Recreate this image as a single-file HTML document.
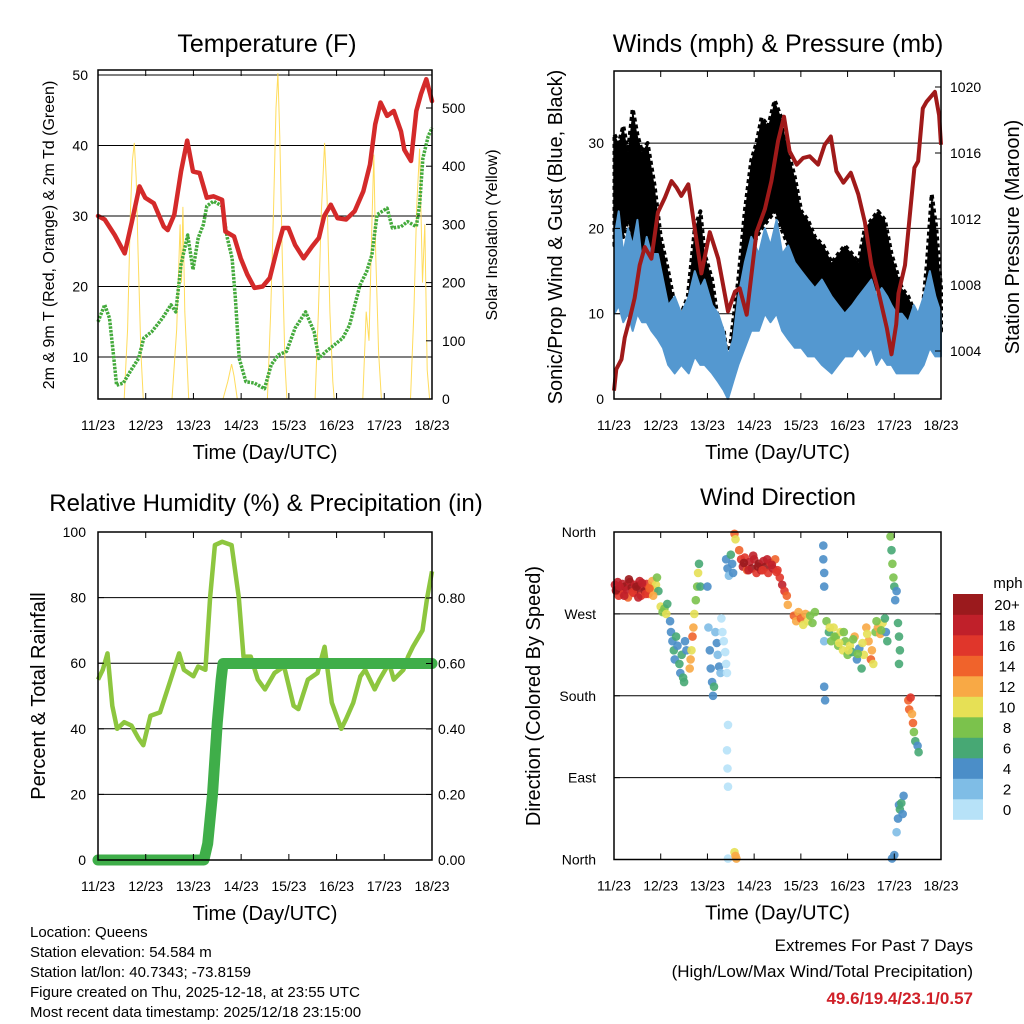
<!DOCTYPE html>
<html><head><meta charset="utf-8">
<style>
html,body{margin:0;padding:0;background:#fff;}
svg{display:block;font-family:"Liberation Sans",sans-serif;}
</style></head>
<body>
<svg id="chart" width="1024" height="1024" viewBox="0 0 1024 1024" xmlns="http://www.w3.org/2000/svg">
<g id="layer-grid"></g>
<g id="layer-data"></g>
<g id="layer-axes"></g>
<g id="layer-text"></g>
</svg>
<script>
// ---------- data ----------
const dayLabels = ["11/23","12/23","13/23","14/23","15/23","16/23","17/23","18/23"];
const tempDays = [0,.14,.35,.56,.71,.87,.99,1.17,1.38,1.46,1.6,1.74,1.87,1.99,2.13,2.28,2.42,2.6,2.67,2.85,2.99,3.13,3.28,3.45,3.6,3.74,3.88,3.99,4.13,4.31,4.49,4.63,4.74,4.88,5.02,5.2,5.38,5.56,5.7,5.81,5.92,6.06,6.2,6.35,6.42,6.56,6.67,6.77,6.88,7.0];
const tempVals = [30,29.5,27.3,24.7,29.2,34.2,32.6,31.8,28.5,28,30.2,36.3,40.7,36.3,36.1,32.6,32.8,32.3,27.8,27.1,24,21.7,19.8,20,21.2,25,28.3,28.3,25.9,24,25.7,26.9,30,31.6,29.7,29.5,30.7,33.5,37.3,43,46.1,44.2,44.9,42,39.4,37.8,44.9,47.3,49.4,46.3];
const dewDays = [0,.14,.24,.31,.39,.53,.67,.85,.96,1.13,1.35,1.53,1.63,1.74,1.88,1.99,2.1,2.21,2.28,2.42,2.6,2.71,2.81,2.88,2.96,3.1,3.28,3.49,3.63,3.78,3.95,4.13,4.35,4.53,4.63,4.78,4.95,5.13,5.27,5.49,5.63,5.74,5.85,6.06,6.17,6.35,6.49,6.67,6.74,6.81,6.92,7.0];
const dewVals = [15,17.4,15.5,11.2,6,6.3,7.9,9.8,12.7,13.6,15.5,17.4,16.4,23.1,27.3,22.4,26.9,28.8,31.4,32.1,31.4,26.9,24,18.3,9.8,6.5,6.3,5.5,8.9,10.3,10.8,14.1,16.4,13.6,9.8,10.8,11.7,12.7,14.5,20.2,22.1,24.5,30.2,31.1,28.3,28.5,29.2,28.5,31.6,38.2,41.3,42.5];
const solarDays = [0,.55,.62,.68,.72,.76,.8,.84,.9,.95,1.55,1.65,1.72,1.75,1.78,1.82,1.9,2.62,2.72,2.8,2.85,2.92,3.55,3.62,3.68,3.73,3.77,3.81,3.86,3.92,3.96,4.55,4.62,4.68,4.75,4.8,4.86,4.92,4.95,5.55,5.62,5.68,5.74,5.78,5.82,5.88,5.94,6.55,6.62,6.68,6.74,6.8,6.85,6.9,6.95,7.0];
const solarVals = [0,0,120,320,410,440,380,250,80,0,0,120,300,200,330,150,0,0,30,60,40,0,0,150,330,500,560,450,250,60,0,0,150,320,440,350,150,30,0,0,150,100,300,420,250,80,0,0,150,330,430,200,300,50,0,0];

const presDays = [0,.05,.16,.23,.34,.44,.55,.66,.8,.94,1.09,1.23,1.34,1.44,1.59,1.73,1.87,2.05,2.23,2.44,2.59,2.69,2.84,3.05,3.23,3.37,3.51,3.64,3.76,3.91,4.05,4.19,4.37,4.51,4.64,4.76,4.91,5.07,5.23,5.37,5.51,5.66,5.84,5.94,6.04,6.09,6.23,6.43,6.51,6.61,6.69,6.87,6.96,7.0];
const presVals = [1001.6,1002.9,1003.5,1004.8,1006,1007.2,1009.2,1010.3,1009.6,1012.4,1013.3,1014.3,1013.9,1013.4,1014.1,1011.4,1008.7,1011.2,1009.6,1006.4,1007.6,1007.8,1006.2,1011.2,1012.6,1014.3,1016.7,1018.2,1016.1,1015.3,1015.7,1015.8,1015.3,1016.5,1017,1014.9,1014.2,1014.8,1013.5,1011.8,1009.2,1007.6,1005.4,1003.8,1005.6,1007.5,1009.2,1015.1,1015.5,1018.7,1019.1,1019.7,1018.3,1016.5];
const windDays = [0.01,.1,.2,.3,.4,.5,.6,.7,.8,.94,1.05,1.16,1.3,1.44,1.6,1.73,1.85,1.94,2.1,2.23,2.35,2.44,2.55,2.66,2.8,2.94,3.1,3.23,3.35,3.48,3.6,3.73,3.87,4.01,4.15,4.3,4.45,4.66,4.8,4.94,5.1,5.23,5.37,5.51,5.62,5.73,5.85,5.94,6.05,6.16,6.3,6.42,6.51,6.63,6.76,6.88,7.0];
const windHigh = [19,22,17,20,18,21,16,19,17,17,14,11,12,10,12,15,13,14,11,10,8,5,7,12,16,19,17,20,18,21,17,18,16,15,14,13,14,12,11,10,11,12,13,14,12,13,12,11,10,10,9,11,10,12,15,12,10];
const windLow  = [10,11,9,10,8,10,9,9,8,7,6,4,3,4,3,5,4,4,3,2,1,0,2,4,6,8,8,10,9,10,8,7,6,6,5,5,4,3,4,5,5,6,5,6,4,5,4,4,3,3,3,3,3,4,6,5,5];
const gustDays = [0.01,.1,.2,.3,.4,.5,.6,.72,.87,1.0,1.16,1.3,1.44,1.58,1.73,1.85,1.94,2.1,2.23,2.35,2.44,2.55,2.66,2.8,2.94,3.05,3.16,3.3,3.44,3.58,3.73,3.87,4.01,4.15,4.3,4.48,4.66,4.8,4.94,5.1,5.23,5.37,5.51,5.65,5.8,5.94,6.05,6.16,6.3,6.45,6.6,6.7,6.8,6.9,7.0];
const gustHigh = [31,30,32,29,34,31,29,30,25,19,15,11,10,12,20,22,17,14,9,8,4,9,14,22,28,30,33,32,35,33,29,26,22,21,19,18,16,17,18,17,16,20,21,22,21,17,15,13,12,10,10,16,24,20,13];
const gustLow  = [18,20,19,21,18,20,17,16,13,11,8,6,5,7,10,11,9,7,5,3,1,4,8,13,17,19,20,21,22,20,18,16,14,12,11,10,8,8,9,9,9,11,12,13,11,9,8,7,6,5,6,9,13,11,8];

const rhDays = [0,.1,.2,.3,.4,.55,.7,.85,.95,1.1,1.3,1.5,1.7,1.8,2.0,2.1,2.25,2.35,2.45,2.6,2.8,2.95,3.05,3.2,3.35,3.5,3.7,3.9,4.1,4.2,4.4,4.6,4.75,4.9,5.1,5.2,5.35,5.5,5.6,5.8,5.9,6.1,6.2,6.4,6.5,6.6,6.8,6.9,7.0];
const rhVals = [55,58,63,47,40,42,41,37,35,44,45,54,63,58,56,59,58,80,96,97,96,80,62,62,55,52,57,59,47,46,55,57,65,48,40,43,48,56,58,52,55,60,55,58,62,65,70,80,88];
const rainDays = [0,2.22,2.3,2.4,2.5,2.58,2.62,7.0];
const rainVals = [0,0,0.05,0.2,0.42,0.55,0.6,0.6];

const dirDays = [0.02,0.05,0.08,0.1,0.14,0.18,0.2,0.24,0.28,0.3,0.34,0.38,0.42,0.45,0.5,0.55,0.58,0.62,0.66,0.7,0.74,0.78,0.82,0.86,0.9,0.92,0.95,
0.04,0.12,0.22,0.32,0.4,0.48,0.52,0.6,0.68,0.76,0.84,
1.0,1.04,1.08,1.12,1.14,
1.2,1.22,1.25,1.28,1.3,1.33,1.36,1.4,1.42,1.45,1.48,1.5,1.52,1.55,
1.62,1.64,1.66,1.68,1.7,1.72,1.75,1.78,1.8,1.82,1.85,
2.0,2.02,2.05,2.07,2.1,2.12,2.14,2.17,2.2,2.22,2.25,2.28,
2.3,2.32,2.35,2.38,2.4,2.42,2.44,2.42,2.43,2.44,2.44,
2.4,2.43,2.46,2.5,2.53,2.55,
2.58,2.6,2.62,2.58,2.6,
2.68,2.72,2.76,2.8,2.85,2.9,2.95,3.0,3.05,3.1,3.15,3.2,3.25,3.3,3.35,3.4,3.45,3.5,3.55,3.6,3.65,3.7,3.72,
2.78,2.88,2.98,3.08,3.18,3.28,3.38,3.48,
3.85,3.9,3.95,4.0,4.05,4.1,4.15,4.2,4.25,4.3,
4.48,4.48,4.5,4.5,4.52,4.5,4.5,
4.55,4.6,4.65,4.7,4.75,4.8,4.85,4.9,4.95,5.0,5.05,5.1,5.15,5.2,5.25,5.3,5.35,5.4,5.45,5.5,5.55,5.6,5.65,5.7,5.75,5.8,5.82,5.85,
4.62,4.72,4.82,4.92,5.02,5.12,5.22,5.32,5.42,5.52,5.62,5.72,
5.92,5.94,5.96,5.98,6.0,6.02,6.05,
6.08,6.1,6.12,6.1,
5.95,6.0,6.05,6.08,6.1,6.12,6.15,6.18,6.2,
6.3,6.32,6.35,6.38,6.4,6.42,6.45,6.5,6.52];
const dirDegs = [302,295,305,290,298,303,292,300,296,288,305,299,293,302,297,306,290,300,295,303,292,300,306,296,302,310,295,
296,300,290,308,294,300,288,304,292,298,290,
278,272,276,270,281,
262,250,240,230,220,245,235,215,205,225,200,195,240,230,
210,220,230,245,255,270,285,300,315,325,300,
300,255,230,210,195,180,190,250,238,225,212,205,
265,250,240,228,215,205,148,120,100,80,1,
330,320,312,335,325,315,
8,4,1,358,352,
340,330,322,332,318,327,320,330,315,325,318,328,322,315,326,320,330,318,310,302,295,290,280,
326,318,334,322,318,330,324,316,
268,262,272,265,258,270,262,268,260,272,
345,330,315,300,175,190,240,
262,250,240,255,245,235,250,230,240,225,235,228,245,220,232,210,225,255,240,220,215,250,255,248,260,265,250,240,
255,245,238,250,230,242,226,238,248,230,262,252,
355,340,325,310,300,285,295,
260,245,230,215,
1,5,30,45,60,55,62,50,70,
175,165,178,160,150,140,130,125,118];
const dirSpeeds = [18,20,19,17,20,18,16,20,19,15,18,20,17,19,20,18,16,19,20,17,14,15,13,12,10,9,7,
20,19,18,20,17,20,19,18,16,14,12,
10,9,8,10,6,
4,5,4,6,5,6,4,6,5,7,6,7,5,4,
12,13,11,14,12,10,9,8,10,7,6,
4,3,4,4,5,4,6,3,4,3,4,3,
1,1,0,1,0,1,0,1,0,1,0,
4,5,3,6,4,5,
10,12,13,14,10,
14,16,18,17,14,19,20,18,16,20,19,18,20,17,16,19,14,17,16,18,16,14,12,
20,19,18,20,16,18,19,17,
14,13,12,15,11,12,10,9,8,9,
4,4,4,5,4,4,3,
8,7,8,10,9,8,10,11,9,8,10,6,12,5,4,7,10,12,13,14,10,8,12,13,10,6,4,6,
10,9,11,8,10,9,8,10,11,12,9,8,
8,7,9,8,6,5,4,
6,6,7,6,
4,4,3,4,5,6,6,5,4,
15,14,16,12,14,8,6,5,6];
const speedColors = ["#b7e2f8","#7fbde6","#4b8ec8","#47a874","#7bc24c","#e6e055","#f8a945","#f0632b","#e0362b","#c0202a","#9b1a1d"];
const speedLabels = ["0","2","4","6","8","10","12","14","16","18","20+"];

// ---------- helpers ----------
const NS = "http://www.w3.org/2000/svg";
const gGrid = document.getElementById("layer-grid");
const gData = document.getElementById("layer-data");
const gAxes = document.getElementById("layer-axes");
const gText = document.getElementById("layer-text");
function mk(tag, attrs, parent){
  const e = document.createElementNS(NS, tag);
  for (const k in attrs) e.setAttribute(k, attrs[k]);
  parent.appendChild(e);
  return e;
}
function txt(s, x, y, size, anchor, parent, rot, extra){
  const t = mk("text", {x:x, y:y, "font-size":size, "text-anchor":anchor||"middle", fill:"#000"}, parent);
  if (rot) t.setAttribute("transform", "rotate(" + rot + " " + x + " " + y + ")");
  if (extra) for (const k in extra) t.setAttribute(k, extra[k]);
  t.textContent = s;
  return t;
}
function pathFrom(xs, ys, fx, fy){
  let d = "";
  for (let i = 0; i < xs.length; i++) d += (i ? "L" : "M") + fx(xs[i]).toFixed(1) + " " + fy(ys[i]).toFixed(1);
  return d;
}
function bandFrom(xs, hi, lo, fx, fy){
  let d = "";
  for (let i = 0; i < xs.length; i++) d += (i ? "L" : "M") + fx(xs[i]).toFixed(1) + " " + fy(hi[i]).toFixed(1);
  for (let i = xs.length - 1; i >= 0; i--) d += "L" + fx(xs[i]).toFixed(1) + " " + fy(lo[i]).toFixed(1);
  return d + "Z";
}
function frame(x0, x1, y0, y1, name){
  const r = mk("rect", {x:x0, y:y0, width:x1-x0, height:y1-y0, fill:"none", stroke:"#000", "stroke-width":1.5}, gAxes);
  
  
  for (let i = 0; i < dayLabels.length; i++){
    const x = x0 + (x1 - x0) * i / 7;
    mk("line", {x1:x, x2:x, y1:y1, y2:y1-6, stroke:"#000", "stroke-width":1}, gAxes);
    mk("line", {x1:x, x2:x, y1:y0, y2:y0+6, stroke:"#000", "stroke-width":1}, gAxes);
    const t = txt(dayLabels[i], x, y1 + 31, 14, "middle", gText);
    
    
  }
  const at = txt("Time (Day/UTC)", (x0 + x1) / 2, y1 + 60, 20, "middle", gText);
  
  
}
function hgrid(x0, x1, y){
  mk("line", {x1:x0, x2:x1, y1:y, y2:y, stroke:"#000", "stroke-width":1}, gGrid);
}

// ---------- Panel 1: Temperature ----------
(function(){
  const x0 = 98, x1 = 432, yT = 70, yB = 399;
  const fx = d => x0 + d * (x1 - x0) / 7;
  const fy = v => 357 - (v - 10) * 7.05;
  const fr = w => 399 - w * 0.582;
  [10,20,30,40,50].forEach(v => hgrid(x0, x1, fy(v)));
  const sol = mk("path", {d:pathFrom(solarDays, solarVals, fx, fr), fill:"none", stroke:"#ffd84a", "stroke-width":1, opacity:0.9}, gData);
  
  
  const dew = mk("path", {d:pathFrom(dewDays, dewVals, fx, fy), fill:"none", stroke:"#44aa3c", "stroke-width":3.5, "stroke-dasharray":"2.5 1.2", "stroke-linejoin":"round"}, gData);
  
  
  const tl = mk("path", {d:pathFrom(tempDays, tempVals, fx, fy), fill:"none", stroke:"#d42a2a", "stroke-width":4.5, "stroke-linejoin":"round", "stroke-linecap":"round"}, gData);
  
  
  frame(x0, x1, yT, yB, "temperature-plot-frame");
  [10,20,30,40,50].forEach(v => {
    mk("line", {x1:x0, x2:x0+6, y1:fy(v), y2:fy(v), stroke:"#000"}, gAxes);
    const t = txt(String(v), x0 - 10, fy(v) + 5, 14, "end", gText);
    
    
  });
  [0,100,200,300,400,500].forEach(v => {
    mk("line", {x1:x1, x2:x1-6, y1:fr(v), y2:fr(v), stroke:"#000"}, gAxes);
    const t = txt(String(v), x1 + 10, fr(v) + 5, 14, "start", gText);
    
    
  });
  const ti = txt("Temperature (F)", 267, 52, 25, "middle", gText);
  
  
  const yl = txt("2m & 9m T (Red, Orange) & 2m Td (Green)", 54, 235, 16, "middle", gText, -90);
  
  
  const yr = txt("Solar Insolation (Yellow)", 497, 235, 16, "middle", gText, -90);
  
  
})();

// ---------- Panel 2: Winds & Pressure ----------
(function(){
  const x0 = 614, x1 = 941, yT = 71, yB = 399;
  const fx = d => x0 + d * (x1 - x0) / 7;
  const fy = v => 399 - v * 8.53;
  const fp = p => 351 - (p - 1004) * 16.5;
  [10,20,30].forEach(v => hgrid(x0, x1, fy(v)));
  const gb = mk("path", {d:bandFrom(gustDays, gustHigh, gustLow, fx, fy), fill:"#000", stroke:"#000", "stroke-width":4, "stroke-linejoin":"round", "stroke-dasharray":"4 3"}, gData);
  
  
  const wb = mk("path", {d:bandFrom(windDays, windHigh, windLow, fx, fy), fill:"#5498d0", stroke:"#5498d0", "stroke-width":2, "stroke-linejoin":"round"}, gData);
  
  
  const pl = mk("path", {d:pathFrom(presDays, presVals, fx, fp), fill:"none", stroke:"#a01a1a", "stroke-width":4, "stroke-linejoin":"round"}, gData);
  
  
  frame(x0, x1, yT, yB, "winds-plot-frame");
  [0,10,20,30].forEach(v => {
    mk("line", {x1:x0, x2:x0+6, y1:fy(v), y2:fy(v), stroke:"#000"}, gAxes);
    const t = txt(String(v), x0 - 10, fy(v) + 5, 14, "end", gText);
    
    
  });
  [1004,1008,1012,1016,1020].forEach(v => {
    mk("line", {x1:x1, x2:x1-6, y1:fp(v), y2:fp(v), stroke:"#000"}, gAxes);
    const t = txt(String(v), x1 + 9, fp(v) + 5, 14, "start", gText);
    
    
  });
  const ti = txt("Winds (mph) & Pressure (mb)", 778, 52, 25, "middle", gText);
  
  
  const yl = txt("Sonic/Prop Wind & Gust (Blue, Black)", 562, 237, 20, "middle", gText, -90);
  
  
  const yr = txt("Station Pressure (Maroon)", 1019, 237, 20, "middle", gText, -90);
  
  
})();

// ---------- Panel 3: RH & Precip ----------
(function(){
  const x0 = 98, x1 = 432, yT = 532, yB = 860;
  const fx = d => x0 + d * (x1 - x0) / 7;
  const fy = v => 860 - v * 3.28;
  const fp = p => 860 - p * 327.5;
  [20,40,60,80].forEach(v => hgrid(x0, x1, fy(v)));
  const rh = mk("path", {d:pathFrom(rhDays, rhVals, fx, fy), fill:"none", stroke:"#8dc63f", "stroke-width":4.5, "stroke-linejoin":"round"}, gData);
  
  
  const rn = mk("path", {d:pathFrom(rainDays, rainVals, fx, fp), fill:"none", stroke:"#3fae49", "stroke-width":11, "stroke-linejoin":"round", "stroke-linecap":"round"}, gData);
  
  
  frame(x0, x1, yT, yB, "humidity-plot-frame");
  [0,20,40,60,80,100].forEach(v => {
    mk("line", {x1:x0, x2:x0+6, y1:fy(v), y2:fy(v), stroke:"#000"}, gAxes);
    const t = txt(String(v), x0 - 12, fy(v) + 5, 14, "end", gText);
    
    
  });
  [0,0.2,0.4,0.6,0.8].forEach(v => {
    mk("line", {x1:x1, x2:x1-6, y1:fp(v), y2:fp(v), stroke:"#000"}, gAxes);
    const t = txt(v.toFixed(2), x1 + 6, fp(v) + 5, 14, "start", gText);
    
    
  });
  const ti = txt("Relative Humidity (%) & Precipitation (in)", 266, 511, 24, "middle", gText);
  
  
  const yl = txt("Percent & Total Rainfall", 45, 696, 20, "middle", gText, -90);
  
  
})();

// ---------- Panel 4: Wind direction ----------
(function(){
  const x0 = 614, x1 = 941, yT = 532, yB = 859.5;
  const fx = d => x0 + d * (x1 - x0) / 7;
  const fy = g => 859.5 - g * (327.5 / 360);
  [90,180,270].forEach(v => hgrid(x0, x1, fy(v)));
  for (let i = 0; i < dirDays.length; i++){
    const idx = Math.min(10, Math.max(0, Math.floor(dirSpeeds[i] / 2)));
    const c = mk("circle", {cx:fx(dirDays[i]).toFixed(1), cy:fy(dirDegs[i]).toFixed(1), r:4.3, fill:speedColors[idx], opacity:0.9}, gData);
    
    
  }
  frame(x0, x1, yT, yB, "direction-plot-frame");
  const dl = ["North","East","South","West","North"];
  for (let i = 0; i < 5; i++){
    const v = i * 90;
    mk("line", {x1:x0, x2:x0+6, y1:fy(v), y2:fy(v), stroke:"#000"}, gAxes);
    mk("line", {x1:x1, x2:x1-6, y1:fy(v), y2:fy(v), stroke:"#000"}, gAxes);
    const t = txt(dl[i], x0 - 18, fy(v) + 5, 14, "end", gText);
    
    
  }
  const ti = txt("Wind Direction", 778, 505, 24, "middle", gText);
  
  
  const yl = txt("Direction (Colored By Speed)", 540, 696, 20, "middle", gText, -90);
  
  
  const cb = mk("g", {}, gData);
  
  
  const h = 20.5;
  for (let i = 0; i < 11; i++){
    const yy = 594 + (10 - i) * h;
    const r = mk("rect", {x:953, y:yy.toFixed(1), width:30, height:(h+0.3).toFixed(1), fill:speedColors[i]}, cb);
    
    
    const t = txt(speedLabels[i], 1007, yy + 16, 15, "middle", gText);
    
    
  }
  const mp = txt("mph", 1008, 588, 15, "middle", gText);
  
  
})();

// ---------- footer ----------
const infoLines = ["Location: Queens","Station elevation: 54.584 m","Station lat/lon: 40.7343; -73.8159","Figure created on Thu, 2025-12-18, at 23:55 UTC","Most recent data timestamp: 2025/12/18 23:15:00"];
infoLines.forEach((s, i) => {
  const t = txt(s, 30, 937 + i * 20, 15, "start", gText);
  
  
});
const e1 = txt("Extremes For Past 7 Days", 973, 951, 17, "end", gText);


const e2 = txt("(High/Low/Max Wind/Total Precipitation)", 973, 977, 17, "end", gText);


const e3 = txt("49.6/19.4/23.1/0.57", 973, 1004, 17, "end", gText, 0, {fill:"#d02028", "font-weight":"bold"});


</script>
</body></html>
